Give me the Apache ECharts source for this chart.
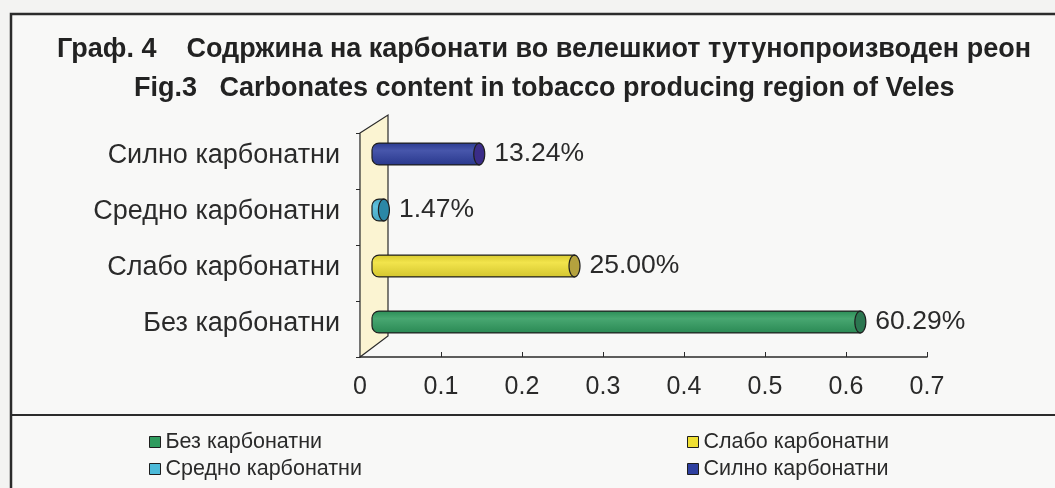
<!DOCTYPE html>
<html><head><meta charset="utf-8">
<script src="https://cdn.jsdelivr.net/npm/echarts@6/dist/echarts.min.js"></script>
<style>html,body{margin:0;padding:0;background:#f3f3f2}#c{width:1055px;height:488px}</style>
</head><body><div id="c"></div>
<script>
const titleMk = 'Граф. 4    Содржина на карбонати во велешкиот тутунопроизводен реон';
const titleEn = 'Fig.3   Carbonates content in tobacco producing region of Veles';
const categories = ['Без карбонатни', 'Слабо карбонатни', 'Средно карбонатни', 'Силно карбонатни'];
const values = [0.6029, 0.25, 0.0147, 0.1324];
const xTicks = [0, 0.1, 0.2, 0.3, 0.4, 0.5, 0.6, 0.7];
const bodyColors = ['#2f9b5e', '#f0e034', '#4cbad9', '#2e3f9f'];
const capColors = ['#2b7650', '#b4a23e', '#2b87a6', '#3a2c88'];
const legendLeft = ['Без карбонатни', 'Средно карбонатни'];
const legendRight = ['Слабо карбонатни', 'Силно карбонатни'];

const DX = 12, DY = -7, WALL_DX = 28, WALL_DY = -18;
const FONT = '"Liberation Sans", Arial, sans-serif';

function shade(hex, f) {
  const n = parseInt(hex.slice(1), 16);
  let r = (n >> 16) & 255, g = (n >> 8) & 255, b = n & 255;
  const m = c => Math.max(0, Math.min(255, Math.round(f > 0 ? c + (255 - c) * f : c * (1 + f))));
  return 'rgb(' + m(r) + ',' + m(g) + ',' + m(b) + ')';
}

function ellipsePts(cx, cy, rx, ry) {
  const pts = [];
  for (let k = 0; k < 28; k++) {
    const a = k / 28 * Math.PI * 2;
    pts.push([cx + rx * Math.cos(a), cy + ry * Math.sin(a)]);
  }
  return pts;
}

function makeBarRender(idx) {
  return function (params, api) {
    const v = api.value(0), c = api.value(1);
    const s = api.coord([0, c]);
    const e = api.coord([v, c]);
    const band = api.size([0, 1])[1];
    const h = band * 0.39;
    const x0 = s[0] + DX, x1 = e[0] + DX, cy = s[1] + DY;
    const col = bodyColors[idx];
    return {
      type: 'group',
      children: [
        {
          type: 'rect',
          shape: { x: x0, y: cy - h / 2, width: Math.max(x1 - x0, 1), height: h, r: [7, 0, 0, 7] },
          style: {
            fill: { type: 'linear', x: 0, y: 0, x2: 0, y2: 1, colorStops: [
              { offset: 0, color: shade(col, -0.1) },
              { offset: 0.35, color: shade(col, 0.12) },
              { offset: 1, color: shade(col, -0.12) }] },
            stroke: '#1e1e1e', lineWidth: 1.2
          }
        },
        {
          type: 'polygon',
          shape: { points: ellipsePts(x1, cy, 5.5, h / 2) },
          style: { fill: capColors[idx], stroke: '#1e1e1e', lineWidth: 1.2 }
        },
        {
          type: 'text',
          style: {
            x: x1 + 15, y: cy, text: (v * 100).toFixed(2) + '%',
            fill: '#2a2a2a', font: '26.5px ' + FONT, verticalAlign: 'middle', align: 'left'
          }
        }
      ]
    };
  };
}

const chart = echarts.init(document.getElementById('c'), null, { renderer: 'canvas' });

const series = [{
  type: 'custom', name: 'wall', silent: true, z: 1,
  data: [[0, 0]],
  renderItem: function (params, api) {
    const cs = params.coordSys;
    const x = cs.x, y = cs.y, h = cs.height;
    return {
      type: 'polygon',
      shape: { points: [[x, y], [x + WALL_DX, y + WALL_DY], [x + WALL_DX, y + h - 21], [x, y + h]] },
      style: { fill: '#fbf4d2', stroke: '#2a2a2a', lineWidth: 1.2 }
    };
  }
}];
categories.forEach((name, i) => {
  series.push({
    type: 'custom', name: name, z: 3,
    itemStyle: { color: bodyColors[i] },
    encode: { x: 0, y: 1 },
    data: [[values[i], i]],
    renderItem: makeBarRender(i)
  });
});

chart.setOption({
  backgroundColor: '#f3f3f2',
  animation: false,
  title: [
    { text: titleMk, left: 52, top: 31,
      textStyle: { fontFamily: FONT, fontWeight: 'bold', fontSize: 27, color: '#222' } },
    { text: titleEn, left: 129, top: 70,
      textStyle: { fontFamily: FONT, fontWeight: 'bold', fontSize: 27, color: '#222' } }
  ],
  grid: { left: 360, right: 128, top: 133, bottom: 131, containLabel: false },
  xAxis: {
    type: 'value', min: 0, max: 0.7, interval: 0.1,
    axisLine: { show: true, lineStyle: { color: '#2a2a2a', width: 1.5 } },
    axisTick: { show: true, inside: true, length: 5, lineStyle: { color: '#2a2a2a' } },
    splitLine: { show: false },
    axisLabel: { margin: 18, fontSize: 25, color: '#2a2a2a', fontFamily: FONT,
      formatter: v => String(xTicks[Math.round(v * 10)]) }
  },
  yAxis: {
    type: 'category', data: categories,
    axisLine: { show: true, lineStyle: { color: '#2a2a2a', width: 1.2 } },
    axisTick: { show: true, length: 4, lineStyle: { color: '#2a2a2a' } },
    axisLabel: { margin: 20, fontSize: 27, color: '#2a2a2a', fontFamily: FONT,
      verticalAlign: 'bottom', lineHeight: 10 }
  },
  legend: [
    { orient: 'vertical', left: 144, top: 426, itemWidth: 11, itemHeight: 11, itemGap: 5, icon: 'rect',
      data: legendLeft, selectedMode: false,
      itemStyle: { borderColor: '#1e1e1e', borderWidth: 1 },
      textStyle: { fontSize: 21.5, color: '#2a2a2a', fontFamily: FONT } },
    { orient: 'vertical', left: 682, top: 426, itemWidth: 11, itemHeight: 11, itemGap: 5, icon: 'rect',
      data: legendRight, selectedMode: false,
      itemStyle: { borderColor: '#1e1e1e', borderWidth: 1 },
      textStyle: { fontSize: 21.5, color: '#2a2a2a', fontFamily: FONT } }
  ],
  graphic: [
    { type: 'rect', silent: true, z: -1, shape: { x: 11, y: 14, width: 1060, height: 490 },
      style: { fill: '#f8f8f7', stroke: '#2b2b2b', lineWidth: 2.5 } },
    { type: 'line', silent: true, z: 0, shape: { x1: 11, y1: 415, x2: 1060, y2: 415 },
      style: { stroke: '#2b2b2b', lineWidth: 2 } }
  ],
  series: series
});
</script>
</body></html>
